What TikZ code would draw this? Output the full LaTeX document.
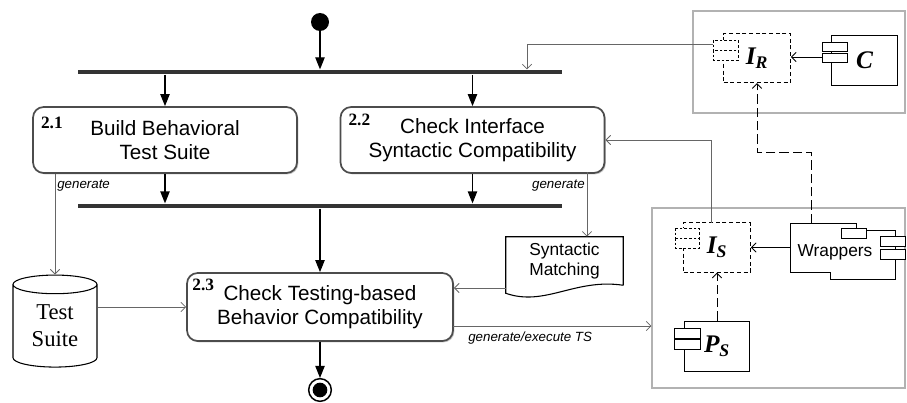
\documentclass[tikz,border=0pt]{standalone}
\usepackage{fontspec}
\setmainfont{Liberation Sans}
\newfontfamily\tmsfont{Liberation Serif}
\usetikzlibrary{arrows.meta,shapes.geometric,shadows,positioning}

\newcommand{\actfont}{\fontsize{15.5}{18}\selectfont}
\newcommand{\numfont}{\fontsize{13}{13}\selectfont\tmsfont\bfseries}
\newcommand{\ifcfont}{\fontsize{19}{19}\selectfont\tmsfont\bfseries\itshape}

\tikzset{
  act/.style={draw=black!70, line width=1.3pt, rounded corners=8pt, fill=white,
    align=center, font=\actfont, inner sep=0pt, minimum width=198pt, minimum height=49.5pt,
    drop shadow={shadow xshift=1pt, shadow yshift=-1pt, fill=black!45}},
  num/.style={font=\numfont, inner sep=0pt},
  bar/.style={fill=black!80, inner sep=0pt, minimum width=363pt, minimum height=3.5pt},
  flow/.style={-{Triangle[length=9pt,width=7pt]}, line width=0.9pt},
  link/.style={-{Straight Barb[length=3.5pt,width=7pt]}, draw=black!60, line width=0.6pt},
  use/.style={link, draw=black, line width=0.7pt},
  lbl/.style={font=\fontsize{10}{10}\selectfont\itshape, inner sep=0pt},
  frame/.style={draw=black!30, line width=0.8pt, inner sep=0pt},
  iface/.style={draw, dash pattern=on 3pt off 2pt, line width=0.7pt, inner sep=0pt,
    minimum width=50pt, minimum height=37pt, font=\ifcfont},
  comp/.style={draw, line width=0.7pt, fill=white, inner sep=0pt,
    minimum width=49pt, minimum height=37.5pt},
  port/.style={draw, line width=0.7pt, fill=white},
  dport/.style={port, dash pattern=on 2pt off 1.5pt},
  dep/.style={-{Straight Barb[length=3.5pt,width=7pt]}, line width=0.7pt, dash pattern=on 7pt off 3pt},
}

\begin{document}
\begin{tikzpicture}[x=0.75pt, y=-0.75pt]
  \useasboundingbox (0,0) rectangle (907,403);
  % containers
  \node[frame, minimum width=159pt, minimum height=76.5pt] (sysR) at (799,62) {};
  \node[frame, minimum width=189.75pt, minimum height=135pt] (sysS) at (778.5,298) {};

  % activity flow
  \node[circle, fill, inner sep=0pt, minimum size=13.5pt] (start) at (320,22) {};
  \node[bar] (fork) at (320,72) {};
  \node[act] (b21) at (165,140) {Build Behavioral\\Test Suite};
  \node[act] (b22) at (472.5,140) {Check Interface\\Syntactic Compatibility};
  \node[bar] (join) at (320,206) {};
  \node[act, minimum width=199.5pt, minimum height=51pt] (b23) at (320,307) {Check Testing-based\\Behavior Compatibility};
  \node[circle, draw, line width=1.1pt, inner sep=0pt, minimum size=17pt] (stop) at (320,390) {};
  \fill (stop.center) circle (5.5pt);
  \node[num, below right=8pt and 6.5pt of b21.north west] (n21) {2.1};
  \node[num, below right=5.5pt and 6.5pt of b22.north west] (n22) {2.2};
  \node[num, below right=5pt and 4.5pt of b23.north west] (n23) {2.3};

  \draw[flow] (start) -- (start |- fork.north);
  \draw[flow] (b21.north |- fork.south) -- (b21.north);
  \draw[flow] (b22.north |- fork.south) -- (b22.north);
  \draw[flow] (b21.south) -- (b21.south |- join.north);
  \draw[flow] (b22.south) -- (b22.south |- join.north);
  \draw[flow] (join.south) -- (b23.north);
  \draw[flow] (b23.south) -- (stop.north);

  % artifacts
  \node[cylinder, shape border rotate=90, draw, line width=0.8pt, aspect=0.4,
    minimum width=63pt, minimum height=69pt, inner sep=0pt, align=center,
    font=\fontsize{17}{20}\selectfont\tmsfont] (ts) at (55,326) {Test\\Suite};
  \node[inner sep=0pt, minimum width=87.75pt, minimum height=36pt, align=center,
    font=\fontsize{13}{15}\selectfont] (doc) at (564.5,261) {Syntactic\\Matching};
  \draw[line width=0.8pt] (doc.south east) -- (doc.north east) -- (doc.north west)
    -- ([yshift=-6pt]doc.south west) .. controls (545,307) and (575,278) .. (doc.south east);

  \coordinate (g22) at (587,172);
  \coordinate (docout) at (506,288);
  \coordinate (tsexec) at (453,326);
  \draw[link] (ts.north |- b21.south) -- (ts.north);
  \node[lbl, anchor=west] (g21) at (57,186) {generate};
  \draw[link] (g22) -- (g22 |- doc.north);
  \node[lbl, anchor=east] (g22lbl) at (585,186) {generate};
  \draw[link] (ts.east |- b23.west) -- (b23.west);
  \draw[link] (docout) -- (docout -| b23.east);
  \draw[link] (tsexec) -- (tsexec -| sysS.west);
  \node[lbl, anchor=west] (gexec) at (468,338) {generate/execute TS};

  % required side
  \node[iface] (ir) at (757,58) {I\textsubscript{R}};
  \draw[dport] (713,40) rectangle (738,50);
  \draw[dport] (713,50) rectangle (738,60);
  \node[comp, font=\ifcfont] (c) at (864.5,60) {C};
  \draw[port] (822,42) rectangle (847,51);
  \draw[port] (822,53) rectangle (847,62);
  \coordinate (irport) at (713,44);
  \coordinate (irdrop) at (527,0);
  \coordinate (cport) at (822,57);
  \draw[link] (irport) -| (irdrop |- fork.north);
  \draw[use] (cport) -- (cport -| ir.east);

  % provided side
  \node[iface] (is) at (717,247.5) {I\textsubscript{S}};
  \draw[dport] (675,228) rectangle (699,238);
  \draw[dport] (675,238) rectangle (699,248);
  \draw[line width=0.7pt] (830,230) rectangle (895,279);
  \node[comp, minimum width=49.5pt, minimum height=36.75pt] (wrp) at (823,247.5) {};
  \fill[white] (791,224) rectangle (855,271);
  \fill[white] (831,231) rectangle (894,278);
  \draw[port] (841,228) rectangle (866,238);
  \draw[port] (880,236) rectangle (905,246);
  \draw[port] (880,249) rectangle (905,259);
  \node[font=\fontsize{13}{13}\selectfont, inner sep=0pt] (wrpname) at (835,252) {Wrappers};
  \node[comp, font=\ifcfont] (ps) at (717,346) {P\textsubscript{S}};
  \draw[port] (674,328) rectangle (700,338);
  \draw[port] (674,339) rectangle (700,349);

  \coordinate (isup) at (711,223);
  \coordinate (wrpup) at (811,223);
  \coordinate (irbend) at (757,152);
  \draw[link] (isup) |- (b22.east);
  \draw[use] (wrp.west) -- (is.east);
  \draw[dep] (wrpup) |- (irbend) -- (ir.south);
  \draw[dep] (ps.north) -- (is.south);
\end{tikzpicture}
\end{document}
